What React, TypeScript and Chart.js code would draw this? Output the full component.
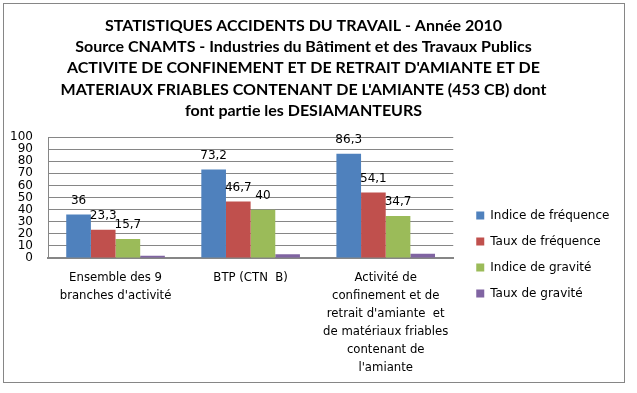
import React, { useEffect, useRef } from "react";
import { Chart, registerables } from "chart.js";

Chart.register(...registerables);

const titleLines = [
  "STATISTIQUES ACCIDENTS DU TRAVAIL - Année 2010",
  "Source CNAMTS - Industries du Bâtiment et des Travaux Publics",
  "ACTIVITE DE CONFINEMENT ET DE RETRAIT D'AMIANTE ET DE",
  "MATERIAUX FRIABLES CONTENANT DE L'AMIANTE (453 CB) dont",
  "font partie les DESIAMANTEURS",
];

const categories: string[][] = [
  ["Ensemble des 9", "branches d'activité"],
  ["BTP (CTN  B)"],
  ["Activité de", "confinement et de", "retrait d'amiante  et", "de matériaux friables", "contenant de", "l'amiante"],
];

const seriesNames = ["Indice de fréquence", "Taux de fréquence", "Indice de gravité", "Taux de gravité"];
const indiceFrequence = [36, 73.2, 86.3];
const tauxFrequence = [23.3, 46.7, 54.1];
const indiceGravite = [15.7, 40, 34.7];
const tauxGravite = [1.9, 3, 3.6];
const seriesColors = ["#4F81BD", "#C0504D", "#9BBB59", "#8064A2"];
const labelledSeries = [true, true, true, false];

const yTicks = { min: 0, max: 100, step: 10 };

const dataLabelPlugin = {
  id: "dataLabels",
  afterDatasetsDraw(chart: any) {
    const ctx = chart.ctx;
    ctx.save();
    ctx.font = "12px 'DejaVu Sans'";
    ctx.fillStyle = "#000";
    ctx.textAlign = "center";
    ctx.textBaseline = "middle";
    chart.data.datasets.forEach((ds: any, i: number) => {
      if (!labelledSeries[i]) return;
      const meta = chart.getDatasetMeta(i);
      meta.data.forEach((el: any, j: number) => {
        const v = ds.data[j];
        ctx.fillText(String(v).replace(".", ","), el.x, el.y - 14);
      });
    });
    ctx.restore();
  },
};

// Legend placement: a gap from the plot and vertical centring below the title
const legendGap = 9;
const legendBottomInset = 10;
const legendPlacePlugin = {
  id: "legendPlace",
  afterLayout(chart: any) {
    const lg = chart.legend;
    if (!lg) return;
    lg.left += legendGap;
    lg.right += legendGap;
    const tb = chart.titleBlock;
    lg.top = tb ? tb.bottom : 0;
    lg.bottom = chart.height - legendBottomInset;
  },
};

export default function App() {
  const ref = useRef<HTMLCanvasElement>(null);
  useEffect(() => {
    if (!ref.current) return;
    const values = [indiceFrequence, tauxFrequence, indiceGravite, tauxGravite];
    const chart = new Chart(ref.current, {
      type: "bar",
      data: {
        labels: categories,
        datasets: seriesNames.map((n, i) => ({
          label: n,
          data: values[i],
          backgroundColor: seriesColors[i],
          borderWidth: 0,
          barPercentage: 1,
          categoryPercentage: 0.73,
        })),
      },
      options: {
        animation: false,
        responsive: true,
        maintainAspectRatio: false,
        layout: { padding: { left: 0, right: 12 + legendGap, top: 0, bottom: 0 } },
        plugins: {
          title: {
            display: true,
            text: titleLines,
            color: "#000",
            font: { family: "Lato", size: 16, weight: "bold", lineHeight: 1.32 },
            padding: { top: 11.5, bottom: 16 },
          },
          legend: {
            position: "right",
            labels: {
              boxWidth: 8,
              boxHeight: 8,
              padding: 14,
              color: "#000",
              font: { family: "DejaVu Sans", size: 12 },
            },
          },
          tooltip: { enabled: false },
        },
        scales: {
          x: {
            grid: { display: false },
            border: { color: "#868686", width: 2 },
            afterFit(scale: any) {
              scale.height = 124;
            },
            ticks: {
              color: "#000",
              padding: 3,
              maxRotation: 0,
              autoSkip: false,
              font: { family: "DejaVu Sans", size: 11.7, lineHeight: 1.54 },
            },
          },
          y: {
            min: yTicks.min,
            max: yTicks.max,
            grid: { color: "#868686", drawTicks: false },
            border: { color: "#868686" },
            afterFit(scale: any) {
              scale.width = 44;
            },
            ticks: {
              stepSize: yTicks.step,
              autoSkip: false,
              color: "#000",
              padding: 15,
              font: { family: "DejaVu Sans", size: 12 },
            },
          },
        },
      },
      plugins: [dataLabelPlugin, legendPlacePlugin],
    });
    return () => chart.destroy();
  }, []);
  return (
    <div style={{ position: "absolute", left: 0, top: 0, width: 637, height: 393, background: "#fff" }}>
      <div style={{ position: "absolute", left: 3, top: 3, width: 620, height: 378, border: "1px solid #868686" }}>
        <canvas ref={ref} />
      </div>
    </div>
  );
}
